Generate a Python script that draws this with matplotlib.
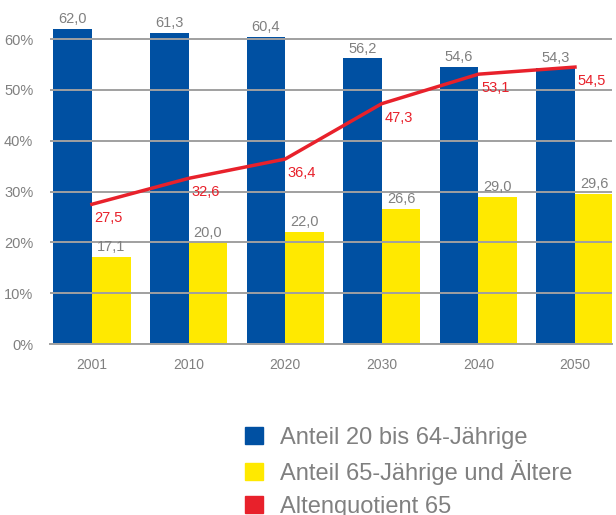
import numpy as np
import matplotlib
matplotlib.use("Agg")
import matplotlib.pyplot as plt
from matplotlib.patches import Patch

plt.rcParams['font.family'] = ['Liberation Sans', 'DejaVu Sans']

years = ['2001', '2010', '2020', '2030', '2040', '2050']
anteil_20_64 = [62.0, 61.3, 60.4, 56.2, 54.6, 54.3]
anteil_65 = [17.1, 20.0, 22.0, 26.6, 29.0, 29.6]
altenquotient = [27.5, 32.6, 36.4, 47.3, 53.1, 54.5]

blue = '#0050a2'
yellow = '#ffe900'
red = '#e8212b'
grey = '#808080'

fig = plt.figure(figsize=(6.16, 5.15), dpi=100)
ax = fig.add_axes([0.081, 0.332, 0.9125, 0.668])

x = np.arange(len(years))
w = 0.4
ax.bar(x - w / 2, anteil_20_64, w, color=blue, zorder=1)
ax.bar(x + w / 2, anteil_65, w, color=yellow, zorder=1)
ax.plot(x, altenquotient, color=red, lw=2.5, zorder=4)

for i in range(len(years)):
    ax.annotate(f'{anteil_20_64[i]:.1f}'.replace('.', ','), (x[i] - w / 2, anteil_20_64[i]),
                xytext=(0, 2), textcoords='offset points', ha='center', va='bottom',
                color=grey, fontsize=10.5)
    ax.annotate(f'{anteil_65[i]:.1f}'.replace('.', ','), (x[i] + w / 2, anteil_65[i]),
                xytext=(0, 2), textcoords='offset points', ha='center', va='bottom',
                color=grey, fontsize=10.5)
    ax.annotate(f'{altenquotient[i]:.1f}'.replace('.', ','), (x[i], altenquotient[i]),
                xytext=(2, -5), textcoords='offset points', ha='left', va='top',
                color=red, fontsize=10.5, annotation_clip=False)

ax.set_ylim(0, 67.7)
ax.set_xlim(-0.435, 5.383)
ax.set_yticks(range(0, 61, 10))
ax.set_yticklabels([f'{v}%' for v in range(0, 61, 10)])
ax.set_xticks(x)
ax.set_xticklabels(years)
ax.tick_params(axis='both', length=0, colors=grey, labelsize=10.5)
ax.tick_params(axis='x', pad=10, labelsize=10)
ax.tick_params(axis='y', pad=12)
ax.grid(axis='y', color='#a0a0a0', lw=1.4, zorder=3)
ax.set_axisbelow(False)
for s in ['top', 'right', 'left']:
    ax.spines[s].set_visible(False)
ax.spines['bottom'].set_color('#a0a0a0')
ax.spines['bottom'].set_linewidth(1.4)

handles = [Patch(color=blue), Patch(color=yellow), Patch(color=red)]
labels = ['Anteil 20 bis 64-Jährige', 'Anteil 65-Jährige und Ältere', 'Altenquotient 65']
leg = fig.legend(handles, labels, loc='upper left', bbox_to_anchor=(0.398, 0.171),
                 frameon=False, fontsize=17, handlelength=0.76, handleheight=0.76,
                 handletextpad=0.72, labelspacing=0.46, borderaxespad=0, borderpad=0)
for t in leg.get_texts():
    t.set_color(grey)

fig.savefig('out.png', dpi=100)
